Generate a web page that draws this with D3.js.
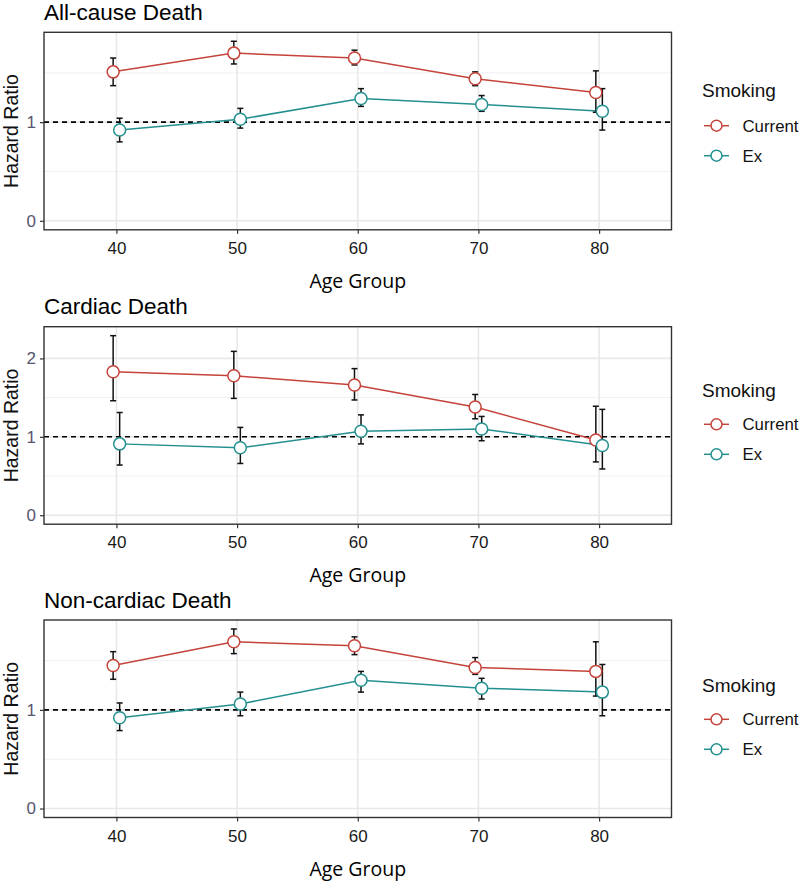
<!DOCTYPE html>
<html>
<head>
<meta charset="utf-8">
<script src="https://cdn.jsdelivr.net/npm/d3@7"></script>
<style>
  html, body { margin: 0; padding: 0; background: #fff; }
  svg { display: block; }
</style>
</head>
<body>
<svg id="chart" width="800" height="885"></svg>
<script>
// ---------------- DATA ----------------
const ageGroups = [40, 50, 60, 70, 80];
const panelTitles = ["All-cause Death", "Cardiac Death", "Non-cardiac Death"];
const seriesNames = ["Current", "Ex"];
const seriesColors = ["#c4433a", "#23908f"];

// All-cause Death
const allCauseCurrentHR = [1.51, 1.70, 1.65, 1.44, 1.30];
const allCauseCurrentLo = [1.37, 1.59, 1.58, 1.37, 1.10];
const allCauseCurrentHi = [1.65, 1.82, 1.73, 1.51, 1.52];
const allCauseExHR = [0.92, 1.03, 1.24, 1.18, 1.11];
const allCauseExLo = [0.80, 0.94, 1.16, 1.11, 0.92];
const allCauseExHi = [1.04, 1.14, 1.34, 1.27, 1.34];

// Cardiac Death
const cardiacCurrentHR = [1.83, 1.78, 1.66, 1.38, 0.96];
const cardiacCurrentLo = [1.46, 1.49, 1.47, 1.23, 0.68];
const cardiacCurrentHi = [2.29, 2.09, 1.87, 1.54, 1.39];
const cardiacExHR = [0.91, 0.86, 1.07, 1.10, 0.89];
const cardiacExLo = [0.64, 0.66, 0.91, 0.95, 0.59];
const cardiacExHi = [1.31, 1.12, 1.28, 1.26, 1.35];

// Non-cardiac Death
const nonCardiacCurrentHR = [1.45, 1.69, 1.65, 1.43, 1.39];
const nonCardiacCurrentLo = [1.31, 1.57, 1.56, 1.36, 1.14];
const nonCardiacCurrentHi = [1.59, 1.82, 1.74, 1.53, 1.69];
const nonCardiacExHR = [0.92, 1.06, 1.30, 1.22, 1.18];
const nonCardiacExLo = [0.79, 0.94, 1.18, 1.11, 0.94];
const nonCardiacExHi = [1.07, 1.18, 1.39, 1.32, 1.46];

const yMajorTicks = [[0, 1], [0, 1, 2], [0, 1]];
const yMinorTicks = [[0.5, 1.5], [0.5, 1.5], [0.5, 1.5]];
const referenceHR = 1;

const xAxisTitle = "Age Group";
const yAxisTitle = "Hazard Ratio";
const legendTitle = "Smoking";

// ---------------- BUILD ----------------
const panels = [
  { title: panelTitles[0], series: [
      { hr: allCauseCurrentHR, lo: allCauseCurrentLo, hi: allCauseCurrentHi },
      { hr: allCauseExHR, lo: allCauseExLo, hi: allCauseExHi } ] },
  { title: panelTitles[1], series: [
      { hr: cardiacCurrentHR, lo: cardiacCurrentLo, hi: cardiacCurrentHi },
      { hr: cardiacExHR, lo: cardiacExLo, hi: cardiacExHi } ] },
  { title: panelTitles[2], series: [
      { hr: nonCardiacCurrentHR, lo: nonCardiacCurrentLo, hi: nonCardiacCurrentHi },
      { hr: nonCardiacExHR, lo: nonCardiacExLo, hi: nonCardiacExHi } ] }
];

// layout
const plotLeft = 44, plotRight = 671.5;
const panelTops = [32.3, 326.7, 620];
const panelHeight = 197.5;
const legendTitleDy = [65, 70, 72];
const legendKeyDy = [93.4, 97.6, 99.3];
const legendKeyGap = 30;
const dodge = [-0.027, 0.027];

const svg = d3.select("#chart");
const FONT = "'Liberation Sans', Arial, sans-serif";

const x = d3.scaleLinear().domain([0.4, 5.6]).range([plotLeft, plotRight]);

panels.forEach((p, pi) => {
  const top = panelTops[pi], bottom = top + panelHeight;
  const maxHi = d3.max(p.series, s => d3.max(s.hi));
  const minLo = Math.min(0, d3.min(p.series, s => d3.min(s.lo)));
  const pad = (maxHi - minLo) * 0.05;
  const y = d3.scaleLinear().domain([minLo - pad, maxHi + pad]).range([bottom, top]);

  const g = svg.append("g");

  // minor grid
  g.selectAll(".ymin").data(yMinorTicks[pi]).join("line")
    .attr("x1", plotLeft).attr("x2", plotRight)
    .attr("y1", d => y(d)).attr("y2", d => y(d))
    .attr("stroke", "#f0f0f0").attr("stroke-width", 1);
  // major grid
  g.selectAll(".ymaj").data(yMajorTicks[pi]).join("line")
    .attr("x1", plotLeft).attr("x2", plotRight)
    .attr("y1", d => y(d)).attr("y2", d => y(d))
    .attr("stroke", "#e8e8e8").attr("stroke-width", 1.6);
  g.selectAll(".xmaj").data(ageGroups).join("line")
    .attr("x1", (d, i) => x(i + 1)).attr("x2", (d, i) => x(i + 1))
    .attr("y1", top).attr("y2", bottom)
    .attr("stroke", "#e8e8e8").attr("stroke-width", 1.6);

  // reference line
  g.append("line")
    .attr("x1", plotLeft).attr("x2", plotRight)
    .attr("y1", y(referenceHR)).attr("y2", y(referenceHR))
    .attr("stroke", "#000").attr("stroke-width", 1.6)
    .attr("stroke-dasharray", "5,4");

  // series
  p.series.forEach((s, si) => {
    const col = seriesColors[si];
    const pts = ageGroups.map((a, i) => ({ xi: i + 1 + dodge[si], hr: s.hr[i], lo: s.lo[i], hi: s.hi[i] }));
    g.append("path")
      .datum(pts)
      .attr("fill", "none").attr("stroke", col).attr("stroke-width", 1.5)
      .attr("d", d3.line().x(d => x(d.xi)).y(d => y(d.hr)));
  });
  p.series.forEach((s, si) => {
    const pts = ageGroups.map((a, i) => ({ xi: i + 1 + dodge[si], hr: s.hr[i], lo: s.lo[i], hi: s.hi[i] }));
    const eb = g.append("g");
    eb.selectAll(".v").data(pts).join("line")
      .attr("x1", d => x(d.xi)).attr("x2", d => x(d.xi))
      .attr("y1", d => y(d.lo)).attr("y2", d => y(d.hi))
      .attr("stroke", "#111").attr("stroke-width", 1.5);
    ["lo", "hi"].forEach(k => {
      eb.selectAll(".c" + k).data(pts).join("line")
        .attr("x1", d => x(d.xi) - 3).attr("x2", d => x(d.xi) + 3)
        .attr("y1", d => y(d[k])).attr("y2", d => y(d[k]))
        .attr("stroke", "#111").attr("stroke-width", 1.5);
    });
  });
  p.series.forEach((s, si) => {
    const col = seriesColors[si];
    const pts = ageGroups.map((a, i) => ({ xi: i + 1 + dodge[si], hr: s.hr[i] }));
    g.selectAll(".pt" + si).data(pts).join("circle")
      .attr("cx", d => x(d.xi)).attr("cy", d => y(d.hr))
      .attr("r", 6).attr("fill", "#fff")
      .attr("stroke", col).attr("stroke-width", 1.5);
  });

  // panel border
  g.append("rect")
    .attr("x", plotLeft).attr("y", top)
    .attr("width", plotRight - plotLeft).attr("height", panelHeight)
    .attr("fill", "none").attr("stroke", "#333").attr("stroke-width", 1.4);

  // axes
  const yAxis = d3.axisLeft(y).tickValues(yMajorTicks[pi]).tickFormat(d3.format("d")).tickSize(4).tickPadding(4);
  const ya = g.append("g").attr("transform", `translate(${plotLeft},0)`).call(yAxis);
  ya.select(".domain").remove();
  ya.selectAll("line").attr("stroke", "#333").attr("stroke-width", 1.2);
  ya.selectAll("text").attr("font-family", FONT).attr("font-size", 17).attr("fill", "#55556e");

  const xAxis = d3.axisBottom(x).tickValues(ageGroups.map((a, i) => i + 1))
    .tickFormat((d, i) => ageGroups[i]).tickSize(4).tickPadding(8);
  const xa = g.append("g").attr("transform", `translate(0,${bottom})`).call(xAxis);
  xa.select(".domain").remove();
  xa.selectAll("line").attr("stroke", "#333").attr("stroke-width", 1.2);
  xa.selectAll("text").attr("font-family", FONT).attr("font-size", 17).attr("fill", "#1a1a1a");

  // titles
  g.append("text").attr("x", plotLeft).attr("y", top - 12.5)
    .attr("font-family", FONT).attr("font-size", 22.5).attr("fill", "#000")
    .text(p.title);

  g.append("text")
    .attr("x", (plotLeft + plotRight) / 2).attr("y", bottom + 58)
    .attr("text-anchor", "middle")
    .attr("font-family", "'Open Sans', sans-serif").attr("font-size", 19.5).attr("fill", "#000")
    .text(xAxisTitle);

  g.append("text")
    .attr("transform", `translate(18,${(top + bottom) / 2}) rotate(-90)`)
    .attr("text-anchor", "middle")
    .attr("font-family", FONT).attr("font-size", 19.5).attr("fill", "#111")
    .text(yAxisTitle);

  // legend
  const lg = g.append("g");
  lg.append("text").attr("x", 702).attr("y", top + legendTitleDy[pi])
    .attr("font-family", FONT).attr("font-size", 19).attr("fill", "#111")
    .text(legendTitle);
  seriesNames.forEach((nm, si) => {
    const ky = top + legendKeyDy[pi] + si * legendKeyGap;
    lg.append("line").attr("x1", 704).attr("x2", 729).attr("y1", ky).attr("y2", ky)
      .attr("stroke", seriesColors[si]).attr("stroke-width", 1.5);
    lg.append("circle").attr("cx", 716.5).attr("cy", ky).attr("r", 5.5)
      .attr("fill", "#fff").attr("stroke", seriesColors[si]).attr("stroke-width", 1.5);
    lg.append("text").attr("x", 742.5).attr("y", ky + 6)
      .attr("font-family", FONT).attr("font-size", 16.8).attr("fill", "#111")
      .text(nm);
  });
});
</script>
</body>
</html>
